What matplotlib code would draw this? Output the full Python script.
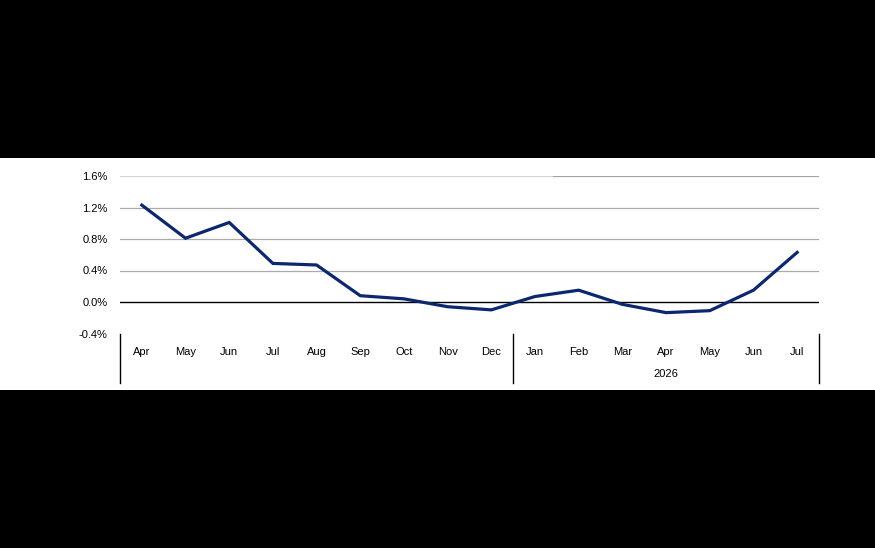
import matplotlib
matplotlib.use("Agg")
import matplotlib.pyplot as plt
import matplotlib.transforms as mtransforms
from matplotlib.patches import Rectangle

# Monthly values (%)
months = ["Apr", "May", "Jun", "Jul", "Aug", "Sep", "Oct", "Nov", "Dec",
          "Jan", "Feb", "Mar", "Apr", "May", "Jun", "Jul"]
values = [1.23, 0.81, 1.01, 0.49, 0.47, 0.08, 0.04, -0.06, -0.10,
          0.07, 0.15, -0.03, -0.135, -0.11, 0.15, 0.63]
y_ticks = [-0.4, 0.0, 0.4, 0.8, 1.2, 1.6]
year_groups = [("", 0, 8), ("2026", 9, 15)]

W, H = 875, 548
fig = plt.figure(figsize=(W / 100, H / 100), dpi=100, facecolor="black")
# white band behind the chart
fig.patches.append(Rectangle((0, 1 - 390 / H), 1, (390 - 158) / H,
                             transform=fig.transFigure, facecolor="white",
                             edgecolor="none", zorder=-1))

left, right, top, bottom = 120, 819, 176, 333.5
ax = fig.add_axes([left / W, 1 - bottom / H, (right - left) / W, (bottom - top) / H])
ax.set_facecolor("none")

font = ["Liberation Sans", "DejaVu Sans"]
fs = 8

x = list(range(len(months)))
ax.set_xlim(-0.5, len(months) - 0.5)
ax.set_ylim(-0.4, 1.6)

for t in y_ticks:
    if t == 0:
        ax.axhline(t, color="black", lw=1.0, zorder=2)
    elif t == -0.4:
        ax.axhline(t, color="#e6e6e6", lw=0.8, zorder=1)
    elif t == 1.6:
        # top gridline is faded on its left part
        ax.plot([-0.5, 9.4], [t, t], color="#d4d4d4", lw=0.9, zorder=1)
        ax.plot([9.4, 15.5], [t, t], color="#a5a5a5", lw=0.9, zorder=1)
    else:
        ax.axhline(t, color="#ababab", lw=0.9, zorder=1)

ax.plot(x, values, color="#0c2770", lw=2.3, solid_joinstyle="miter", zorder=3)

for s in ax.spines.values():
    s.set_visible(False)

ax.set_yticks(y_ticks)
ax.set_yticklabels([f"{t:.1f}%" for t in y_ticks], family=font, fontsize=fs)
ax.set_xticks(x)
ax.set_xticklabels(months, family=font, fontsize=fs)
ax.tick_params(axis="both", length=0, colors="black")
ax.tick_params(axis="y", pad=9)
ax.tick_params(axis="x", pad=9.5)

# category box separators below the axis
trans = mtransforms.blended_transform_factory(ax.transData, ax.transAxes)
low = -(383 - bottom) / (bottom - top)
for xs in [-0.5, 8.5, 15.5]:
    ax.plot([xs, xs], [0, low], color="black", lw=1.0, transform=trans, clip_on=False)

for label, a, b in year_groups:
    if label:
        ax.text((a + b) / 2, -(374 - bottom) / (bottom - top), label,
                transform=trans, ha="center", va="center",
                family=font, fontsize=fs)

fig.savefig("out.png", dpi=100, facecolor=fig.get_facecolor())
